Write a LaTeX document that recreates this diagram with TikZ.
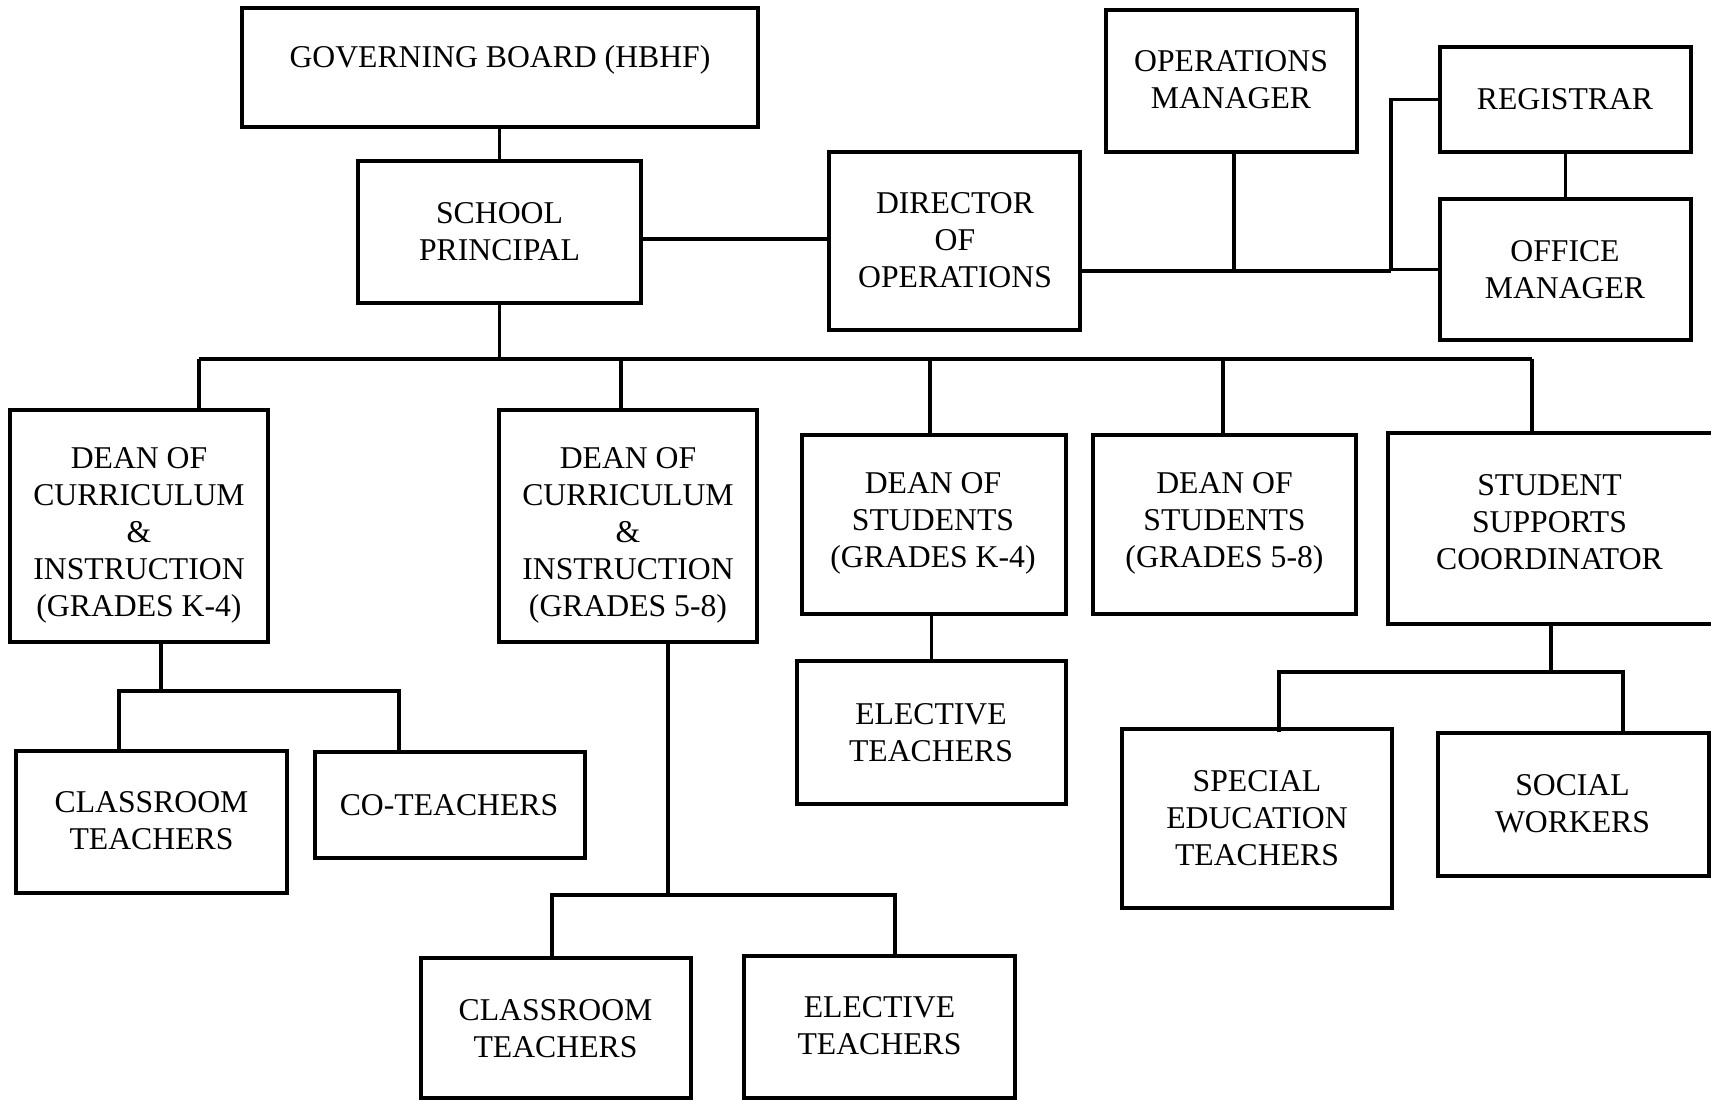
\documentclass[tikz,border=0pt]{standalone}
\usepackage{fontspec}
\setmainfont{Liberation Serif}
\usetikzlibrary{fit}
\begin{document}
\begin{tikzpicture}[x=1pt,y=-1pt,
  box/.style={draw, line width=4pt, inner sep=0pt},
  lbl/.style={align=center, inner sep=0pt, yshift=-3pt, font=\fontsize{31.7pt}{37pt}\selectfont},
  link/.style={line width=3.5pt}]
\fill[white] (0,0) rectangle (1711,1100);
\useasboundingbox (0,0) rectangle (1711,1100);

% --- top level ---
\node[box, fit={(242,8) (758,127)}] (gb) {};
\node[lbl] (gbt) at (500,57) {GOVERNING BOARD (HBHF)};
\node[box, fit={(358,161) (641,303)}] (pr) {};
\node[lbl] (prt) at (499.5,229) {SCHOOL\\PRINCIPAL};

% --- operations branch ---
\node[box, fit={(829,152) (1080,330)}] (dir) {};
\node[lbl] (dirt) at (955,237) {DIRECTOR\\OF\\OPERATIONS};
\node[box, fit={(1106,10) (1357,152)}] (om) {};
\node[lbl] (omt) at (1231,77) {OPERATIONS\\MANAGER};
\node[box, fit={(1440,47) (1691,152)}] (reg) {};
\node[lbl] (regt) at (1565,96) {REGISTRAR};
\node[box, fit={(1440,199) (1691,340)}] (off) {};
\node[lbl] (offt) at (1565,267) {OFFICE\\MANAGER};

% --- deans and coordinator ---
\node[box, fit={(10,410) (268,642)}] (cil) {};
\node[lbl] (cilt) at (139,532) {DEAN OF\\CURRICULUM\\\&\\INSTRUCTION\\(GRADES K-4)};
\node[box, fit={(499,410) (757,642)}] (cim) {};
\node[lbl] (cimt) at (628,532) {DEAN OF\\CURRICULUM\\\&\\INSTRUCTION\\(GRADES 5-8)};
\node[box, fit={(802,435) (1066,614)}] (dsl) {};
\node[lbl] (dslt) at (933,520) {DEAN OF\\STUDENTS\\(GRADES K-4)};
\node[box, fit={(1093,435) (1356,614)}] (dsm) {};
\node[lbl] (dsmt) at (1224.5,520) {DEAN OF\\STUDENTS\\(GRADES 5-8)};
\node[box, fit={(1388,433) (1714,624)}] (ssc) {};
\node[lbl] (ssct) at (1549.5,519) {STUDENT\\SUPPORTS\\COORDINATOR};

% --- teachers and staff ---
\node[box, fit={(16,751) (287,893)}] (ctl) {};
\node[lbl] (ctlt) at (151.5,818) {CLASSROOM\\TEACHERS};
\node[box, fit={(315,752) (585,858)}] (cot) {};
\node[lbl] (cott) at (449,802) {CO-TEACHERS};
\node[box, fit={(421,958) (691,1098)}] (ctm) {};
\node[lbl] (ctmt) at (555.5,1026) {CLASSROOM\\TEACHERS};
\node[box, fit={(744,956) (1015,1098)}] (elm) {};
\node[lbl] (elmt) at (879.5,1023) {ELECTIVE\\TEACHERS};
\node[box, fit={(797,661) (1066,804)}] (elt) {};
\node[lbl] (eltt) at (931,730) {ELECTIVE\\TEACHERS};
\node[box, fit={(1122,729) (1392,908)}] (sped) {};
\node[lbl] (spedt) at (1257,815) {SPECIAL\\EDUCATION\\TEACHERS};
\node[box, fit={(1438,733) (1709,876)}] (sw) {};
\node[lbl] (swt) at (1572.5,801) {SOCIAL\\WORKERS};

% --- junction points ---
\coordinate (jr) at (1391,271);
\coordinate (busW) at (199,359);
\coordinate (b2) at (621,359);
\coordinate (b3) at (930,359);
\coordinate (b4) at (1223,359);
\coordinate (busE) at (1532,359);
\coordinate (k1) at (161,691);
\coordinate (k1l) at (119,691);
\coordinate (k1r) at (399,691);
\coordinate (k2) at (668,895);
\coordinate (k2l) at (552,895);
\coordinate (k2r) at (895,895);
\coordinate (s1) at (1551,672);
\coordinate (s1l) at (1279,672);
\coordinate (s1r) at (1623,672);

% --- connectors ---
\draw[link] (pr.north |- gb.south) -- (pr.north);
\draw[link] (pr.east |- 0,239) -- (dir.west |- 0,239);
\draw[link] (dir.east |- jr) -- (jr);
\draw[link] (om.south -| 1234,0) -- (jr -| 1234,0);
\draw[link] (jr) |- (reg.west);
\draw[link] (jr |- off.west) -- (off.west);
\draw[link] (reg.south) -- (off.north);

\draw[link] (pr.south) -- (pr.south |- busW);
\draw[link] (busW) -- (busE);
\draw[link] (busW) -- (busW |- cil.north);
\draw[link] (b2) -- (b2 |- cim.north);
\draw[link] (b3) -- (b3 |- dsl.north);
\draw[link] (b4) -- (b4 |- dsm.north);
\draw[link] (busE) -- (busE |- ssc.north);

\draw[link] (k1 |- cil.south) -- (k1);
\draw[link] (k1l |- ctl.north) -- (k1l) -- (k1r) -- (k1r |- cot.north);

\draw[link] (k2 |- cim.south) -- (k2);
\draw[link] (k2l |- ctm.north) -- (k2l) -- (k2r) -- (k2r |- elm.north);

\draw[link] (elt.north |- dsl.south) -- (elt.north);

\draw[link] (s1 |- ssc.south) -- (s1);
\draw[link] (s1l |- 0,732) -- (s1l) -- (s1r) -- (s1r |- sw.north);
\end{tikzpicture}
\end{document}
